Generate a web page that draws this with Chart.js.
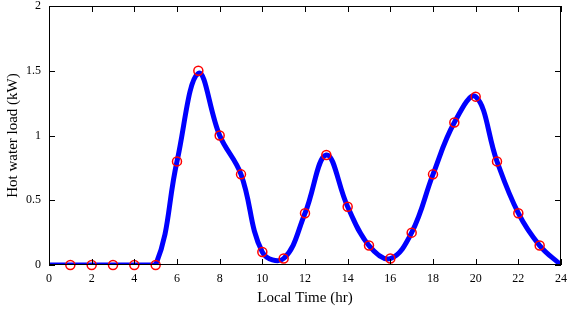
<!DOCTYPE html>
<html><head><meta charset="utf-8">
<script src="https://cdn.jsdelivr.net/npm/chart.js@4"></script>
<style>html,body{margin:0;padding:0;background:#fff}#c{display:block}</style>
</head><body>
<canvas id="c" width="567" height="311"></canvas>
<script>
const hours = [0,1,2,3,4,5,6,7,8,9,10,11,12,13,14,15,16,17,18,19,20,21,22,23,24];
const curveLoad = [0,0,0,0,0,0,0.8,1.48,1.0,0.7,0.1,0.05,0.4,0.85,0.45,0.15,0.05,0.25,0.7,1.1,1.3,0.8,0.4,0.15,0];
const markerHours = [1,2,3,4,5,6,7,8,9,10,11,12,13,14,15,16,17,18,19,20,21,22,23];
const markerLoad = [0,0,0,0,0,0.8,1.5,1.0,0.7,0.1,0.05,0.4,0.85,0.45,0.15,0.05,0.25,0.7,1.1,1.3,0.8,0.4,0.15];
const xTicks = [0,2,4,6,8,10,12,14,16,18,20,22,24];
const yTicks = [0,0.5,1,1.5,2];

const frame = {
  id:'frame',
  afterDatasetsDraw(chart){
    const {ctx, chartArea:a, scales:{x,y}} = chart;
    ctx.save();
    ctx.strokeStyle='#000'; ctx.lineWidth=1;
    ctx.strokeRect(a.left+0.5, a.top+0.5, a.right-a.left-1, a.bottom-a.top-1);
    ctx.beginPath();
    const L=6;
    xTicks.forEach(v=>{const px=Math.round(x.getPixelForValue(v))+0.5;
      ctx.moveTo(px,a.bottom); ctx.lineTo(px,a.bottom-L);
      ctx.moveTo(px,a.top); ctx.lineTo(px,a.top+L);});
    yTicks.forEach(v=>{const py=Math.round(y.getPixelForValue(v))+0.5;
      ctx.moveTo(a.left,py); ctx.lineTo(a.left+L,py);
      ctx.moveTo(a.right,py); ctx.lineTo(a.right-L,py);});
    ctx.stroke();
    ctx.restore();
  }
};

new Chart(document.getElementById('c'), {
  type:'line',
  data:{datasets:[
    {data: markerHours.map((h,i)=>({x:h,y:markerLoad[i]})), showLine:false,
     pointRadius:4.5, pointBorderColor:'#ff0000', pointBackgroundColor:'rgba(0,0,0,0)', pointBorderWidth:1.5, order:0, clip:false},
    {data: hours.map((h,i)=>({x:h,y:curveLoad[i]})), borderColor:'#0000ff', borderWidth:5,
     pointRadius:0, tension:0.4, fill:false, order:1}
  ]},
  options:{
    responsive:false, animation:false,
    layout:{padding:{top:2,right:6,left:0,bottom:0}},
    plugins:{legend:{display:false}, tooltip:{enabled:false}},
    scales:{
      x:{type:'linear', min:0, max:24,
         afterBuildTicks(s){s.ticks=xTicks.map(v=>({value:v}));},
         afterFit(s){s.height=46; s.paddingLeft=0; s.paddingRight=0;},
         grid:{display:false, drawTicks:false}, border:{display:false},
         ticks:{color:'#000', padding:7, maxRotation:0, font:{family:'Liberation Serif', size:12}},
         title:{display:true, text:'Local Time (hr)', color:'#000', padding:{top:4}, font:{family:'Liberation Serif', size:15}}},
      y:{type:'linear', min:0, max:2,
         afterBuildTicks(s){s.ticks=yTicks.map(v=>({value:v}));},
         afterFit(s){s.width=49; s.paddingTop=0; s.paddingBottom=0;},
         grid:{display:false, drawTicks:false}, border:{display:false},
         ticks:{color:'#000', padding:8, font:{family:'Liberation Serif', size:12}, callback:v=>String(v)},
         title:{display:true, text:'Hot water load (kW)', color:'#000', padding:{bottom:2}, font:{family:'Liberation Serif', size:15}}}
    }
  },
  plugins:[frame]
});
</script>
</body></html>
